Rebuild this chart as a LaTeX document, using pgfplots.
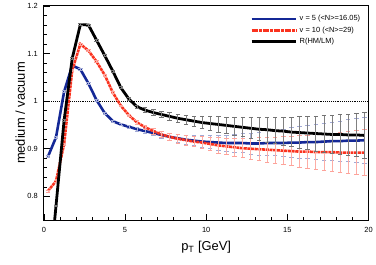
\documentclass[border=0pt]{standalone}
\usepackage{pgfplots}
\pgfplotsset{compat=1.18}
\usepackage{pgfplotstable}
\usepackage{fontspec}
\setmainfont{Liberation Sans}
\definecolor{myblue}{RGB}{20,40,150}
\definecolor{myred}{RGB}{250,50,30}
\pgfplotstableread{
x blue red black err
0.25 0.883 0.811 0.600 0.002
0.75 0.924 0.832 0.780 0.002
1.25 1.020 0.910 0.960 0.002
1.75 1.075 1.065 1.090 0.002
2.25 1.067 1.120 1.161 0.002
2.75 1.037 1.106 1.160 0.002
3.25 1.002 1.083 1.128 0.002
3.75 0.975 1.055 1.096 0.002
4.25 0.958 1.018 1.063 0.002
4.75 0.951 0.990 1.028 0.002
5.25 0.946 0.970 1.004 0.003
5.75 0.941 0.955 0.988 0.004
6.25 0.937 0.945 0.981 0.005
6.75 0.933 0.937 0.976 0.006
7.25 0.929 0.930 0.972 0.007
7.75 0.925 0.925 0.968 0.008
8.25 0.922 0.921 0.964 0.009
8.75 0.919 0.918 0.961 0.010
9.25 0.917 0.915 0.958 0.011
9.75 0.915 0.913 0.955 0.012
10.25 0.914 0.910 0.953 0.014
10.75 0.913 0.907 0.951 0.016
11.25 0.912 0.905 0.949 0.017
11.75 0.912 0.903 0.947 0.019
12.25 0.912 0.901 0.945 0.020
12.75 0.911 0.900 0.943 0.022
13.25 0.911 0.899 0.941 0.024
13.75 0.912 0.898 0.940 0.026
14.25 0.912 0.897 0.938 0.027
14.75 0.912 0.896 0.937 0.029
15.25 0.913 0.895 0.935 0.031
15.75 0.913 0.894 0.934 0.033
16.25 0.914 0.894 0.933 0.035
16.75 0.914 0.893 0.932 0.037
17.25 0.915 0.893 0.931 0.039
17.75 0.916 0.893 0.930 0.040
18.25 0.916 0.892 0.930 0.042
18.75 0.917 0.892 0.929 0.044
19.25 0.917 0.892 0.929 0.046
19.75 0.918 0.892 0.928 0.048
}\datatable
\begin{document}
\begin{tikzpicture}
\begin{axis}[
  name=ax,
  scale only axis,
  width=326bp, height=215bp,
  xmin=0, xmax=20, ymin=0.75, ymax=1.2,
  xtick={0,5,10,15,20},
  ytick={0.8,0.9,1,1.1,1.2},
  minor x tick num=4,
  minor y tick num=4,
  xtick pos=bottom, ytick pos=left,
  tick align=inside,
  major tick length=6bp, minor tick length=3bp,
  every tick/.style={black, line width=0.6bp},
  axis line style={line width=1bp},
  /pgf/number format/assume math mode=true,
  ticklabel style={font=\fontsize{7.5}{9}\selectfont},
  xticklabel style={yshift=-4bp},
  yticklabel style={xshift=-2.5bp},
  xlabel={p\textsubscript{T} [GeV]},
  ylabel={medium / vacuum},
  label style={font=\fontsize{13}{15}\selectfont},
  xlabel style={at={([yshift=-30bp]axis description cs:0.5,0)}, anchor=base},
  ylabel style={at={([xshift=-19bp]axis description cs:0,0.5)}, anchor=base},
  legend style={draw=none, fill=none, at={(rel axis cs:0.99,0.975)}, anchor=north east,
    font=\fontsize{7.5}{9}\selectfont, row sep=0.5bp},
  legend cell align=left,
  legend image code/.code={\draw[#1] (0bp,0bp) -- (45bp,0bp);},
]
\addplot[forget plot, black, densely dotted, line width=0.9bp] coordinates {(0,1) (20,1)};
\addplot[myblue, line width=2.6bp,
  error bars/.cd, y dir=both, y explicit, error mark=-,
  error bar style={myblue!35, line width=0.7bp, solid},
  error mark options={rotate=90, mark size=2.2bp, myblue!40, line width=0.8bp}]
  table[x=x, y=blue, y error=err] {\datatable};
\addlegendentry{v = 5 (<N>=16.05)}
\addplot[myred, line width=2.6bp, dash pattern=on 3bp off 0.7bp,
  error bars/.cd, y dir=both, y explicit, error mark=-,
  error bar style={myred!40, line width=0.7bp, solid},
  error mark options={rotate=90, mark size=2.2bp, myred!45, line width=0.8bp, solid}]
  table[x=x, y=red, y error=err] {\datatable};
\addlegendentry{v = 10 (<N>=29)}
\addplot[black, line width=2.8bp,
  error bars/.cd, y dir=both, y explicit, error mark=-,
  error bar style={black!50, line width=0.6bp},
  error mark options={rotate=90, mark size=2.2bp, black!55, line width=0.8bp}]
  table[x=x, y=black, y error=err] {\datatable};
\addlegendentry{R(HM/LM)}
\end{axis}
\path (ax.south west) ++(-44bp,-45bp) rectangle ++(376bp,266bp);
\end{tikzpicture}
\end{document}
